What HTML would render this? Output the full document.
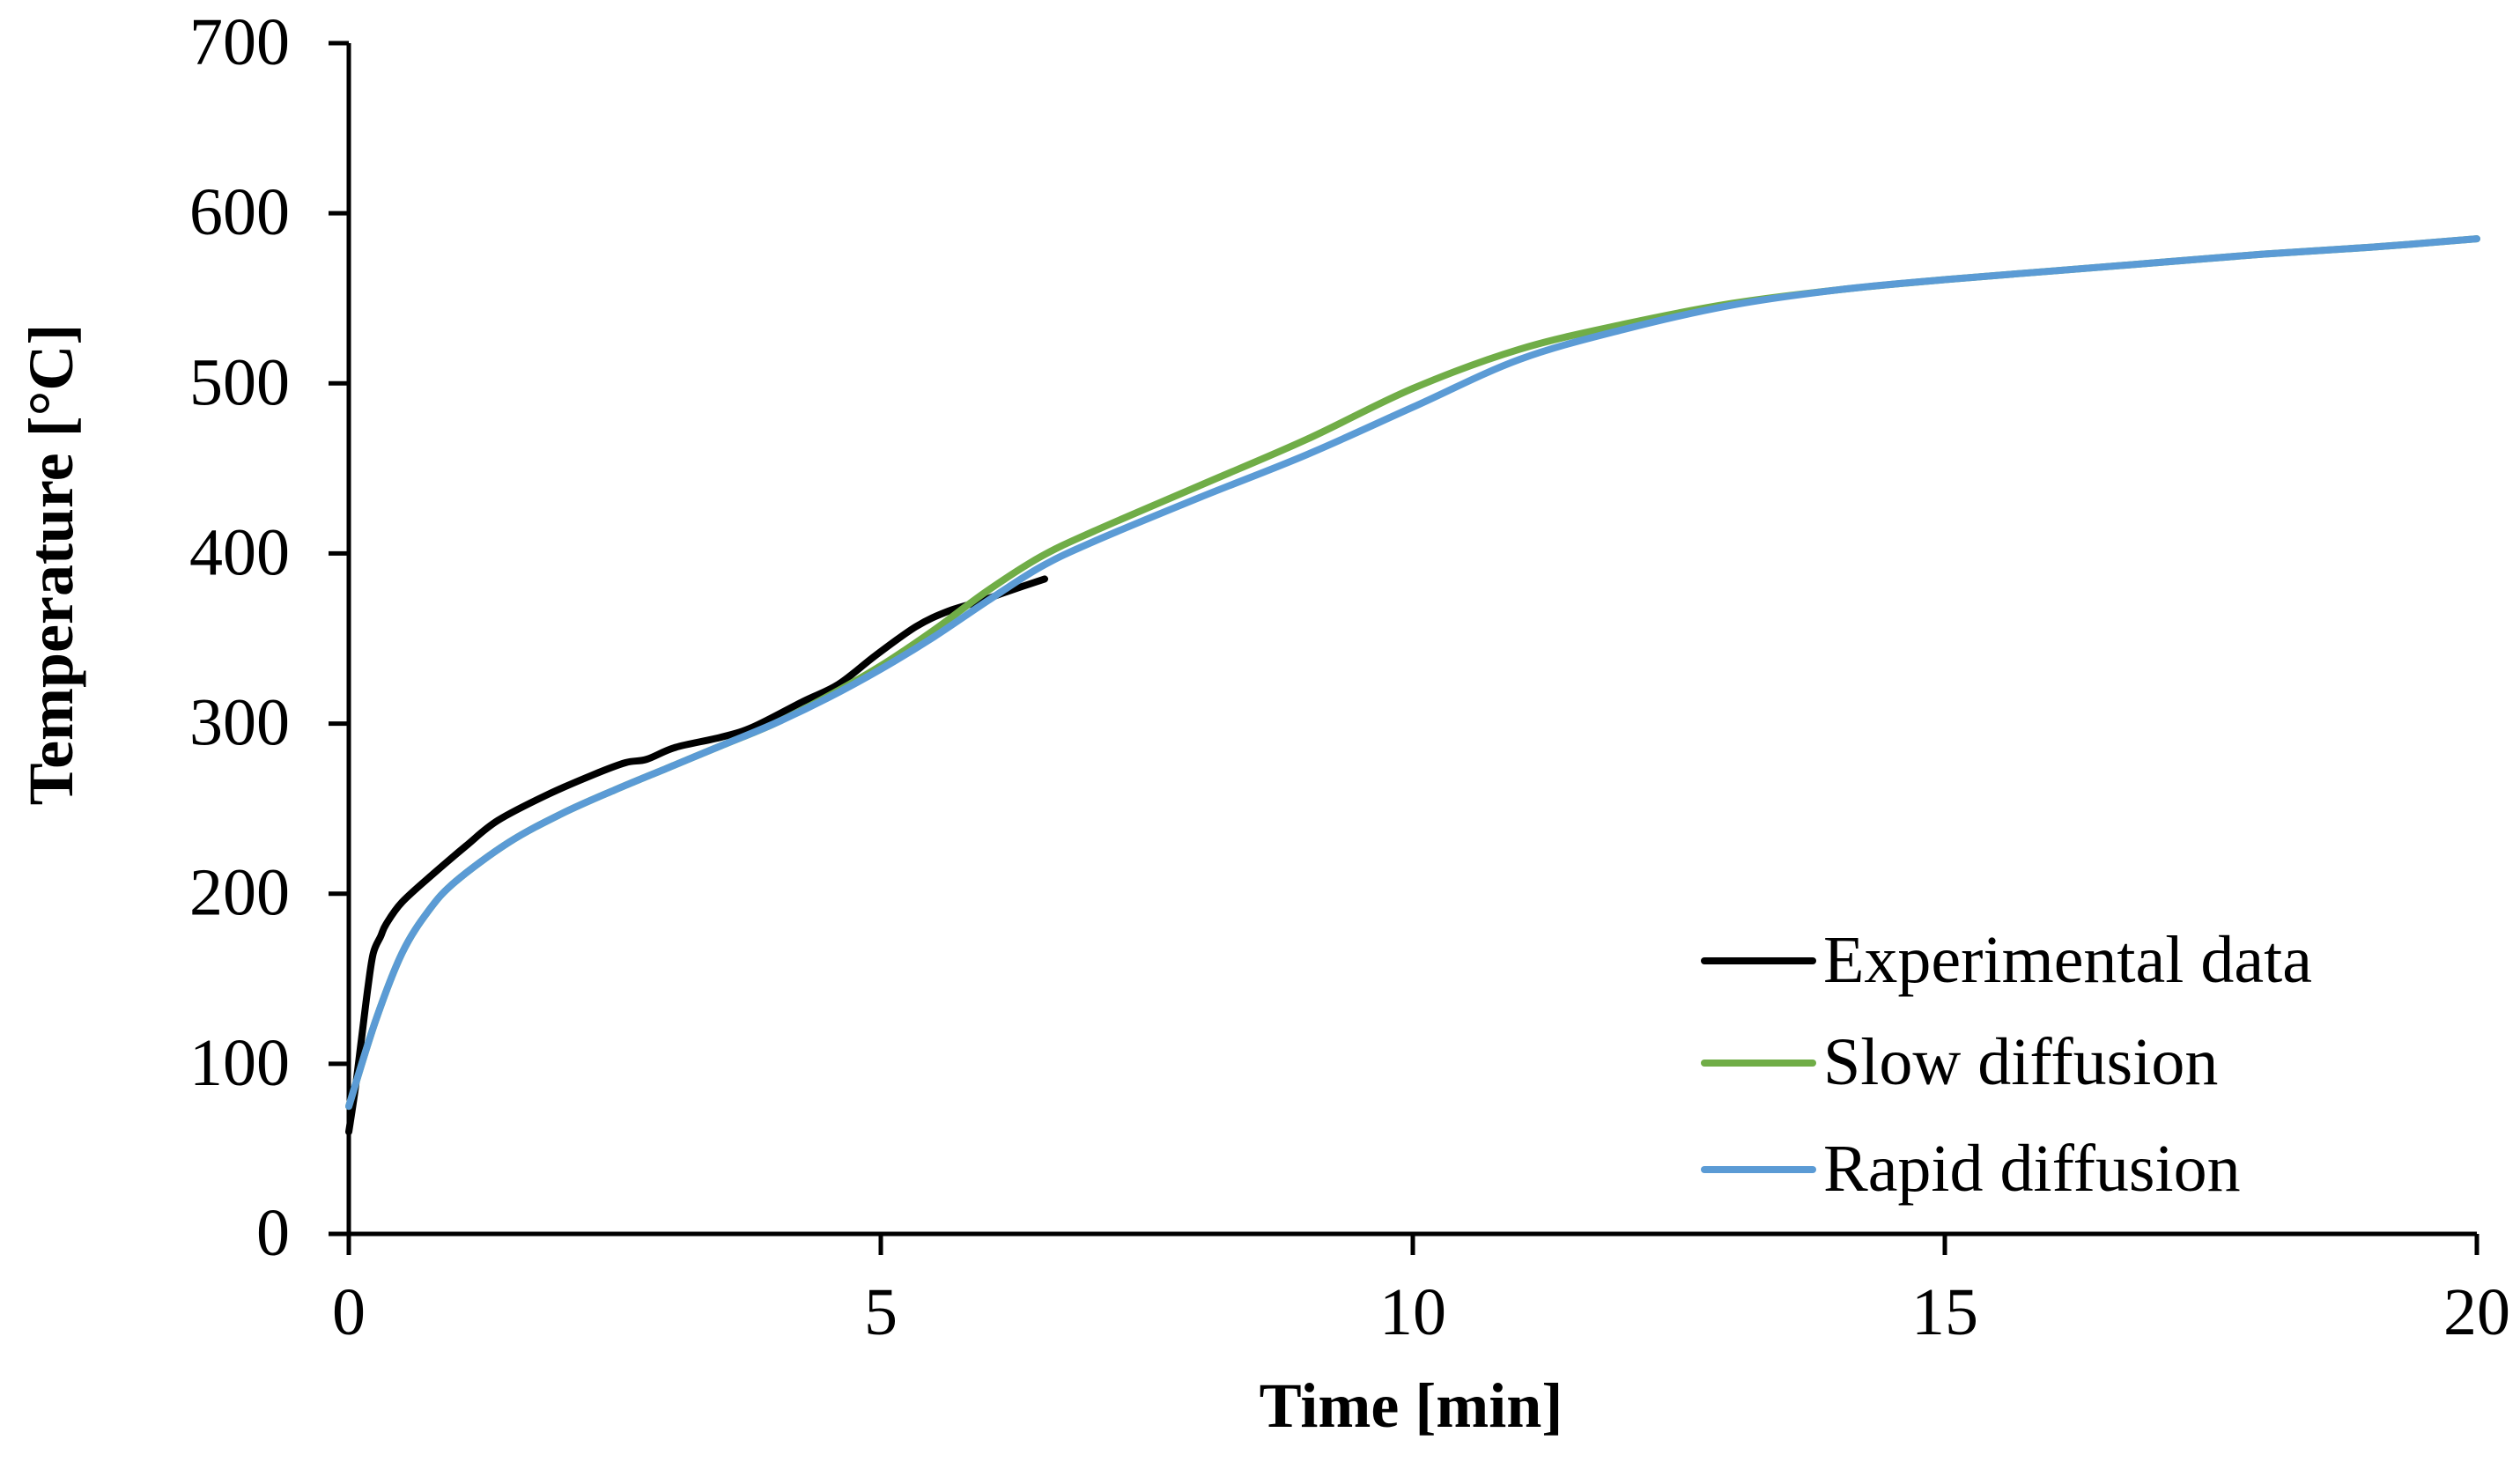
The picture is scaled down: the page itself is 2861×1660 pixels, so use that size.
<!DOCTYPE html>
<html><head><meta charset="utf-8"><style>
html,body{margin:0;padding:0;background:#fff;}
svg{display:block;font-family:"Liberation Serif",serif;}
</style></head><body>
<svg id="chart" width="2861" height="1660" viewBox="0 0 2861 1660" xmlns="http://www.w3.org/2000/svg">
<rect width="2861" height="1660" fill="#fff"/>
<g id="axes"></g>
<g id="series"></g>
<text x="1602" y="1620" font-size="72" font-weight="bold" text-anchor="middle">Time [min]</text>
<text transform="translate(82,641) rotate(-90)" font-size="72" font-weight="bold" text-anchor="middle">Temperature [°C]</text>
<g>
 <line x1="1935" y1="1091" x2="2058" y2="1091" stroke="#000" stroke-width="8" stroke-linecap="round"/>
 <text x="2070" y="1115" font-size="76">Experimental data</text>
 <line x1="1935" y1="1207" x2="2058" y2="1207" stroke="#70AD47" stroke-width="8" stroke-linecap="round"/>
 <text x="2070" y="1231" font-size="76">Slow diffusion</text>
 <line x1="1935" y1="1328" x2="2058" y2="1328" stroke="#5B9BD5" stroke-width="8" stroke-linecap="round"/>
 <text x="2070" y="1352" font-size="76">Rapid diffusion</text>
</g>
</svg>
<script>
const xTicks = [0, 5, 10, 15, 20];
const yTicks = [0, 100, 200, 300, 400, 500, 600, 700];
const expT = [0, 0.06, 0.12, 0.18, 0.23, 0.3, 0.35, 0.5, 0.8, 1.1, 1.4, 1.86, 2.3, 2.6, 2.8, 3.07, 3.5, 3.8, 4.27, 4.6, 4.95, 5.33, 5.63, 5.94, 6.16, 6.54];
const expV = [60, 85, 115, 145, 165, 175, 182, 195, 212, 228, 243, 258, 270, 277, 279, 286, 292, 298, 313, 323, 340, 357, 366, 372, 377, 385];
const simT = [0, 0.25, 0.5, 0.75, 1, 1.5, 2, 2.5, 3, 3.5, 4, 4.5, 5, 5.5, 6, 6.5, 7, 8, 9, 10, 11, 12, 13, 14, 15, 16, 17, 18, 19, 20];
const slowV = [75, 125, 165, 190, 207, 230, 247, 261, 274, 287, 300, 316, 334, 355, 378, 398, 413, 440, 467, 497, 520, 535, 547, 555, 561, 566, 571, 576, 580, 585];
const rapidV = [75, 125, 165, 190, 207, 230, 247, 261, 274, 287, 300, 315, 332, 351, 372, 392, 407, 433, 458, 486, 514, 532, 546, 555, 561, 566, 571, 576, 580, 585];

const X0 = 396, X1 = 2812, Y0 = 1401, Y1 = 49;
const xs = v => X0 + (v - 0) / 20 * (X1 - X0);
const ys = v => Y0 - v / 700 * (Y0 - Y1);
const NS = "http://www.w3.org/2000/svg";
const axes = document.getElementById('axes');
const series = document.getElementById('series');
function mk(tag, attrs, parent) {
  const e = document.createElementNS(NS, tag);
  for (const k in attrs) e.setAttribute(k, attrs[k]);
  parent.appendChild(e);
  return e;
}
let a = mk('line', {x1: X0, y1: Y0, x2: X1, y2: Y0, stroke: '#000', 'stroke-width': 5}, axes);


a = mk('line', {x1: X0, y1: Y0 + 2, x2: X0, y2: Y1, stroke: '#000', 'stroke-width': 5}, axes);


xTicks.forEach(t => {
  const x = xs(t);
  const l = mk('line', {x1: x, y1: Y0, x2: x, y2: Y0 + 24, stroke: '#000', 'stroke-width': 5}, axes);
  
  
  const tx = mk('text', {x: x, y: 1515, 'font-size': 76, 'text-anchor': 'middle'}, axes);
  tx.textContent = t;
  
  
});
yTicks.forEach(t => {
  const y = ys(t);
  const l = mk('line', {x1: X0 - 23, y1: y, x2: X0, y2: y, stroke: '#000', 'stroke-width': 5}, axes);
  
  
  const tx = mk('text', {x: 329, y: y + 24, 'font-size': 76, 'text-anchor': 'end'}, axes);
  tx.textContent = t;
  
  
});
function path(ts, vs) {
  const p = ts.map((t, i) => [xs(t), ys(vs[i])]);
  let d = 'M' + p[0][0] + ',' + p[0][1];
  for (let i = 0; i < p.length - 1; i++) {
    const p0 = p[Math.max(0, i - 1)], p1 = p[i], p2 = p[i + 1], p3 = p[Math.min(p.length - 1, i + 2)];
    const c1 = [p1[0] + (p2[0] - p0[0]) / 6, p1[1] + (p2[1] - p0[1]) / 6];
    const c2 = [p2[0] - (p3[0] - p1[0]) / 6, p2[1] - (p3[1] - p1[1]) / 6];
    d += ' C' + c1[0] + ',' + c1[1] + ' ' + c2[0] + ',' + c2[1] + ' ' + p2[0] + ',' + p2[1];
  }
  return d;
}
let s = mk('path', {d: path(simT, slowV), fill: 'none', stroke: '#70AD47', 'stroke-width': 8, 'stroke-linecap': 'round', 'stroke-linejoin': 'round'}, series);


s = mk('path', {d: path(simT, rapidV), fill: 'none', stroke: '#5B9BD5', 'stroke-width': 8, 'stroke-linecap': 'round', 'stroke-linejoin': 'round'}, series);


s = mk('path', {d: path(expT, expV), fill: 'none', stroke: '#000', 'stroke-width': 8, 'stroke-linecap': 'round', 'stroke-linejoin': 'round'}, series);


series.insertBefore(s, series.firstChild);
</script>
</body></html>
